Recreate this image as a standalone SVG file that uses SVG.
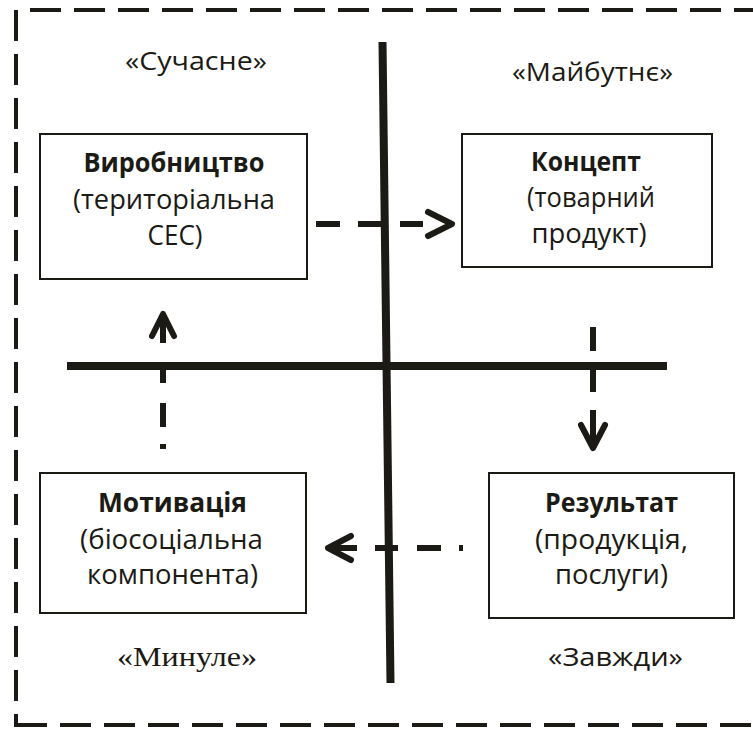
<svg xmlns="http://www.w3.org/2000/svg" width="753" height="729" viewBox="0 0 753 729">
  <style>
    .frame { fill: none; stroke: #1c1a14; stroke-width: 4; stroke-dasharray: 31 13; }
    .axis { fill: none; stroke: #1c1a14; stroke-width: 8; stroke-linecap: butt; }
    .box { fill: #ffffff; stroke: #1c1a14; stroke-width: 2; }
    .flow { fill: none; stroke: #1c1a14; stroke-width: 6; stroke-linecap: butt; }
    .head { fill: none; stroke: #1c1a14; stroke-width: 6; stroke-linecap: round; stroke-linejoin: round; }
    text { font-family: "Open Sans", "Noto Sans", "DejaVu Sans", sans-serif; fill: #1c1a14; text-anchor: middle; font-size: 27px; }
    .title { font-weight: bold; }
    .caption { font-size: 26px; }
    .serif { font-family: "Liberation Serif", "Times New Roman", serif; font-size: 28px; }
  </style>

  <rect width="753" height="729" fill="#ffffff"/>

  <!-- outer dashed frame -->
  <g id="frame">
    <line class="frame" x1="16" y1="10" x2="16" y2="727"/>
    <line class="frame" x1="30" y1="10" x2="753" y2="10"/>
    <line class="frame" x1="16" y1="725" x2="753" y2="725"/>
  </g>

  <!-- time axes -->
  <g id="axes">
    <line class="axis" x1="67" y1="366" x2="667" y2="366"/>
    <line class="axis" x1="382.5" y1="42" x2="390.5" y2="683"/>
  </g>

  <!-- quadrant captions -->
  <g id="captions">
    <text class="caption" x="196" y="70" textLength="142" lengthAdjust="spacingAndGlyphs">«Сучасне»</text>
    <text class="caption" x="592.5" y="81" textLength="161" lengthAdjust="spacingAndGlyphs">«Майбутнє»</text>
    <text class="serif" x="187" y="666" textLength="140" lengthAdjust="spacingAndGlyphs">«Минуле»</text>
    <text class="caption" x="615.5" y="666" textLength="135" lengthAdjust="spacingAndGlyphs">«Завжди»</text>
  </g>

  <!-- nodes -->
  <g id="node-production">
    <rect class="box" x="40" y="134" width="267" height="145"/>
    <text class="title" x="174" y="172" textLength="181" lengthAdjust="spacingAndGlyphs">Виробництво</text>
    <text x="174" y="209" textLength="202" lengthAdjust="spacingAndGlyphs">(територіальна</text>
    <text x="175" y="245" textLength="55" lengthAdjust="spacingAndGlyphs">СЕС)</text>
  </g>

  <g id="node-concept">
    <rect class="box" x="462" y="134" width="250" height="133"/>
    <text class="title" x="586" y="171" textLength="110" lengthAdjust="spacingAndGlyphs">Концепт</text>
    <text x="591" y="207" textLength="128" lengthAdjust="spacingAndGlyphs">(товарний</text>
    <text x="589" y="243" textLength="115" lengthAdjust="spacingAndGlyphs">продукт)</text>
  </g>

  <g id="node-motivation">
    <rect class="box" x="40" y="473" width="266" height="140"/>
    <text class="title" x="172.5" y="512" textLength="149" lengthAdjust="spacingAndGlyphs">Мотивація</text>
    <text x="171.5" y="549" textLength="183" lengthAdjust="spacingAndGlyphs">(біосоціальна</text>
    <text x="172.5" y="584" textLength="171" lengthAdjust="spacingAndGlyphs">компонента)</text>
  </g>

  <g id="node-result">
    <rect class="box" x="489" y="473" width="245" height="145"/>
    <text class="title" x="611.5" y="512" textLength="133" lengthAdjust="spacingAndGlyphs">Результат</text>
    <text x="611.5" y="549" textLength="153" lengthAdjust="spacingAndGlyphs">(продукція,</text>
    <text x="611.5" y="584" textLength="113" lengthAdjust="spacingAndGlyphs">послуги)</text>
  </g>

  <!-- dashed transitions between quadrants -->
  <g id="connectors">
    <!-- production -> concept -->
    <path class="flow" d="M316,224 H340 M358,224 H381 M400,224 H423"/>
    <path class="head" d="M428,212 L452,224 L428,236"/>
    <!-- concept -> result -->
    <path class="flow" d="M593,327 V351 M593,366 V392 M593,410 V445"/>
    <path class="head" d="M581,425 L593,448 L605,425"/>
    <!-- result -> motivation -->
    <path class="flow" d="M459,548 H463 M417,548 H441 M375,548 H398 M331,548 H357"/>
    <path class="head" d="M351,536 L328,548 L351,560"/>
    <!-- motivation -> production -->
    <path class="flow" d="M163,444 V449 M163,403 V427 M163,362 V383 M163,317 V343"/>
    <path class="head" d="M152,336 L163,314 L174,336"/>
  </g>
</svg>
